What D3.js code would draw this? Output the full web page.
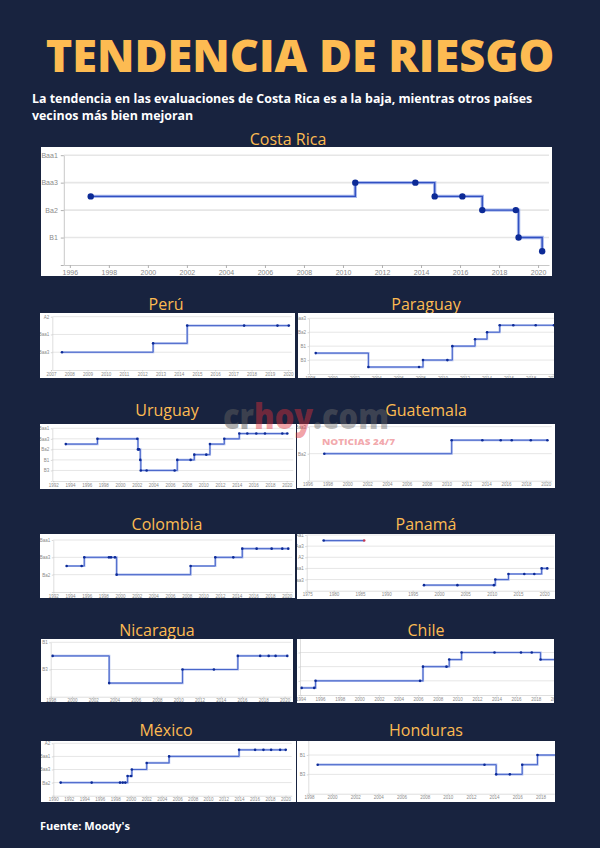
<!DOCTYPE html>
<html>
<head>
<meta charset="utf-8">
<script src="https://cdn.jsdelivr.net/npm/d3@7"></script>
<style>
  body { margin: 0; background: #18233f; }
  svg { display: block; }
</style>
</head>
<body>
<svg id="chart" width="600" height="848"></svg>
<script>
/* eslint-disable no-undef */

// Moody's rating ladder, best to worst
const moodysScale = ['Aaa', 'Aa1', 'Aa2', 'Aa3', 'A1', 'A2', 'A3', 'Baa1', 'Baa2', 'Baa3',
  'Ba1', 'Ba2', 'Ba3', 'B1', 'B2', 'B3', 'Caa1', 'Caa2', 'Caa3'];

// rating actions per country (decimal year + rating)
const costaRicaDates = [1997.07, 2010.63, 2013.71, 2014.7, 2016.12, 2017.14, 2018.86, 2019.0, 2020.21];
const costaRicaRatings = ['Ba1', 'Baa3', 'Baa3', 'Ba1', 'Ba1', 'Ba2', 'Ba2', 'B1', 'B2'];

const peruDates = [2007.6, 2012.6, 2014.47, 2017.59, 2019.42, 2020.04];
const peruRatings = ['Baa3', 'Baa2', 'A3', 'A3', 'A3', 'A3'];

const paraguayDates = [1998.51, 2003.29, 2007.88, 2008.24, 2010.45, 2010.9, 2012.96, 2014.05, 2015.2, 2016.43, 2018.46, 2020.12];
const paraguayRatings = ['B2', 'Caa1', 'Caa1', 'B3', 'B3', 'B1', 'Ba3', 'Ba2', 'Ba1', 'Ba1', 'Ba1', 'Ba1'];

const uruguayDates = [1993.5, 1997.3, 2002.08, 2002.16, 2002.28, 2002.44, 2002.5, 2003.2, 2006.56, 2006.88,
  2008.48, 2008.92, 2010.36, 2010.8, 2012.52, 2014.32, 2015.28, 2016.36, 2017.4, 2019.48, 2020.08];
const uruguayRatings = ['Ba1', 'Baa3', 'Baa3', 'Ba2', 'Ba2', 'B1', 'B3', 'B3', 'B3', 'B1',
  'B1', 'Ba3', 'Ba3', 'Ba1', 'Baa3', 'Baa2', 'Baa2', 'Baa2', 'Baa2', 'Baa2', 'Baa2'];

const guatemalaDates = [1997.68, 2010.52, 2013.61, 2015.46, 2016.57, 2018.49, 2020.17];
const guatemalaRatings = ['Ba2', 'Ba1', 'Ba1', 'Ba1', 'Ba1', 'Ba1', 'Ba1'];

const colombiaDates = [1993.6, 1995.4, 1995.72, 1998.68, 1998.92, 1999.4, 1999.6, 2008.48, 2011.44,
  2013.6, 2014.68, 2016.4, 2018.2, 2019.48, 2020.2];
const colombiaRatings = ['Ba1', 'Ba1', 'Baa3', 'Baa3', 'Baa3', 'Baa3', 'Ba2', 'Ba1', 'Baa3',
  'Baa3', 'Baa2', 'Baa2', 'Baa2', 'Baa2', 'Baa2'];

const panamaOldDates = [1978.1, 1985.8];
const panamaOldRatings = ['Aa2', 'Aa2'];
const panamaDates = [1997.15, 2003.5, 2010.44, 2010.7, 2013.2, 2016.2, 2018.1, 2019.5, 2020.57];
const panamaRatings = ['Ba1', 'Ba1', 'Ba1', 'Baa3', 'Baa2', 'Baa2', 'Baa2', 'Baa1', 'Baa1'];

const nicaraguaDates = [1998.18, 2003.5, 2010.4, 2013.35, 2015.6, 2017.7, 2018.5, 2019.15, 2020.25];
const nicaraguaRatings = ['B2', 'Caa1', 'B3', 'B3', 'B2', 'B2', 'B2', 'B2', 'B2'];

const chileDates = [1994.12, 1995.4, 1995.54, 2006.2, 2006.5, 2008.9, 2009.18, 2010.44, 2013.8,
  2016.5, 2017.6, 2018.5, 2020.2];
const chileRatings = ['Baa2', 'Baa2', 'Baa1', 'Baa1', 'A2', 'A2', 'A1', 'Aa3', 'Aa3',
  'Aa3', 'Aa3', 'A1', 'A1'];

const mexicoDates = [1990.95, 1994.96, 1998.62, 1998.97, 1999.3, 1999.6, 2000.05, 2000.15, 2002.07,
  2004.96, 2014.0, 2016.07, 2017.15, 2018.14, 2019.3, 2020.03];
const mexicoRatings = ['Ba2', 'Ba2', 'Ba2', 'Ba2', 'Ba2', 'Ba1', 'Ba1', 'Baa3', 'Baa2',
  'Baa1', 'A3', 'A3', 'A3', 'A3', 'A3', 'A3'];

const hondurasDates = [1998.76, 2013.17, 2014.18, 2015.36, 2016.43, 2017.75, 2020.1];
const hondurasRatings = ['B2', 'B2', 'B3', 'B3', 'B2', 'B1', 'B1'];

const zip = (dates, ratings) => dates.map((d, i) => ({ date: d, rating: ratings[i] }));

// layout of every panel: white box, plot area, rating range shown, year range and ticks
const panels = [
  { name: 'Costa Rica', big: true, series: [zip(costaRicaDates, costaRicaRatings)],
    box: [41, 147, 511, 129], title: [288, 145], left: 63.8, right: 549, yTop: 155.2, yAxis: 265,
    top: 'Baa1', bottom: 'B3', years: [1995.69, 2020.56], ticks: [1996, 2020, 2] },
  { name: 'Perú', series: [zip(peruDates, peruRatings)],
    box: [40, 313, 255, 65], title: [166, 310], left: 52.3, right: 291.7, yTop: 316.7, yAxis: 370,
    top: 'A2', bottom: 'Ba2', years: [2007.07, 2020.2], ticks: [2007, 2020, 1] },
  { name: 'Paraguay', series: [zip(paraguayDates, paraguayRatings)],
    box: [298, 313, 256, 65], title: [426, 310], left: 309, right: 554, yTop: 318.3, yAxis: 374,
    top: 'Baa3', bottom: 'Caa2', years: [1997.9, 2020.12], ticks: [1998, 2020, 2] },
  { name: 'Uruguay', series: [zip(uruguayDates, uruguayRatings)],
    box: [40, 424, 256, 65], title: [167, 416], left: 52.3, right: 293.3, yTop: 428.3, yAxis: 481,
    top: 'Baa1', bottom: 'Caa2', years: [1991.88, 2020.8], ticks: [1992, 2020, 2] },
  { name: 'Guatemala', series: [zip(guatemalaDates, guatemalaRatings)],
    box: [297, 424, 258, 64], title: [426, 416], left: 309, right: 551.7, yTop: 426.7, yAxis: 480.7,
    top: 'Baa3', bottom: 'B1', years: [1996.14, 2020.6], ticks: [1996, 2020, 2] },
  { name: 'Colombia', series: [zip(colombiaDates, colombiaRatings)],
    box: [40, 534, 255, 64], title: [167, 530], left: 53.3, right: 292.3, yTop: 540, yAxis: 592,
    top: 'Baa1', bottom: 'B1', years: [1992.0, 2020.68], ticks: [1992, 2020, 2] },
  { name: 'Panamá', series: [zip(panamaOldDates, panamaOldRatings), zip(panamaDates, panamaRatings)], redEnd: true,
    box: [297, 534, 258, 65], title: [426, 530], left: 306.7, right: 554.3, yTop: 535, yAxis: 590.7,
    top: 'Aa1', bottom: 'Ba2', years: [1974.88, 2021.9], ticks: [1975, 2020, 5] },
  { name: 'Nicaragua', series: [zip(nicaraguaDates, nicaraguaRatings)],
    box: [41, 639, 252, 63], title: [157, 636], left: 50.7, right: 291, yTop: 642.3, yAxis: 696.7,
    top: 'B1', bottom: 'Caa2', years: [1998.0, 2020.6], ticks: [1998, 2020, 2] },
  { name: 'Chile', series: [zip(chileDates, chileRatings)],
    box: [297, 639, 257, 64], title: [426, 636], left: 300, right: 554.3, yTop: 638.3, yAxis: 695,
    top: 'Aa1', bottom: 'Baa3', years: [1993.95, 2019.9], ticks: [1994, 2020, 2] },
  { name: 'México', series: [zip(mexicoDates, mexicoRatings)],
    box: [41, 741, 255, 61], title: [166, 736], left: 53.3, right: 291.7, yTop: 743.3, yAxis: 795.7,
    top: 'A2', bottom: 'B1', years: [1990.0, 2020.8], ticks: [1990, 2020, 2] },
  { name: 'Honduras', series: [zip(hondurasDates, hondurasRatings)],
    box: [297, 741, 258, 61], title: [426, 736], left: 308.3, right: 554.3, yTop: 735.7, yAxis: 793.7,
    top: 'Ba2', bottom: 'Caa2', years: [1997.95, 2019.2], ticks: [1998, 2020, 2] },
];

const svg = d3.select('svg#chart');
const ORANGE = '#fdbb52';
const FONT = "'Open Sans', 'Noto Sans', sans-serif";
const TICK_FONT = "'Liberation Sans', Arial, sans-serif";

// header
svg.append('text')
  .attr('x', 300)
  .attr('y', 72)
  .attr('text-anchor', 'middle')
  .attr('font-family', FONT)
  .attr('font-weight', 800)
  .attr('font-size', 45)
  .attr('fill', ORANGE)
  .text('TENDENCIA DE RIESGO');

const sub = svg.append('text')
  .attr('font-family', FONT)
  .attr('font-weight', 700)
  .attr('font-size', 12.4)
  .attr('fill', '#ffffff');
sub.append('tspan').attr('x', 32).attr('y', 103)
  .text('La tendencia en las evaluaciones de Costa Rica es a la baja, mientras otros países');
sub.append('tspan').attr('x', 32).attr('y', 120)
  .text('vecinos más bien mejoran');

const defs = svg.append('defs');

panels.forEach((p, idx) => {
  const [bx, by, bw, bh] = p.box;
  const tickFs = p.big ? 7 : 4.5;

  svg.append('text')
    .attr('x', p.title[0])
    .attr('y', p.title[1])
    .attr('text-anchor', 'middle')
    .attr('font-family', FONT)
    .attr('font-size', 16)
    .attr('fill', ORANGE)
    .text(p.name);

  defs.append('clipPath').attr('id', `clip${idx}`)
    .append('rect').attr('x', bx).attr('y', by).attr('width', bw).attr('height', bh);

  const g = svg.append('g').attr('clip-path', `url(#clip${idx})`);

  g.append('rect')
    .attr('x', bx).attr('y', by)
    .attr('width', bw).attr('height', bh)
    .attr('fill', '#ffffff');

  const levels = moodysScale.slice(moodysScale.indexOf(p.top), moodysScale.indexOf(p.bottom) + 1);
  const y = d3.scalePoint().domain(levels).range([p.yTop, p.yAxis]);
  const x = d3.scaleLinear().domain(p.years).range([p.left, p.right]);
  const labeled = levels.filter((l, i) => i % 2 === 0 && i < levels.length - 1);

  // gridlines on labelled ratings
  g.selectAll('line.grid')
    .data(labeled)
    .enter()
    .append('line')
    .attr('x1', p.left)
    .attr('x2', p.right)
    .attr('y1', (d) => y(d))
    .attr('y2', (d) => y(d))
    .attr('stroke', '#e6e6e6')
    .attr('stroke-width', p.big ? 1.6 : 1);

  const xAxis = g.append('g')
    .attr('transform', `translate(0,${p.yAxis})`)
    .call(d3.axisBottom(x)
      .tickValues(d3.range(p.ticks[0], p.ticks[1] + 0.1, p.ticks[2]))
      .tickFormat(d3.format('d'))
      .tickSize(p.big ? 3 : 1.5)
      .tickSizeOuter(0)
      .tickPadding(p.big ? 2 : 1));

  const yAxis = g.append('g')
    .attr('transform', `translate(${p.left},0)`)
    .call(d3.axisLeft(y)
      .tickValues(labeled.concat([p.bottom]))
      .tickFormat((d) => (d === p.bottom ? '' : d))
      .tickSize(p.big ? 3 : 1.5)
      .tickSizeOuter(0)
      .tickPadding(p.big ? 3 : 1.5));

  [xAxis, yAxis].forEach((ax) => {
    ax.select('.domain').attr('stroke', '#c8c8c8').attr('stroke-width', p.big ? 1 : 0.6);
    ax.selectAll('.tick line').attr('stroke', '#b0b0b0').attr('stroke-width', p.big ? 1 : 0.5);
    ax.selectAll('.tick text')
      .attr('fill', '#8a8a8a')
      .attr('font-family', TICK_FONT)
      .attr('font-size', tickFs);
  });

  const line = d3.line()
    .x((d) => x(d.date))
    .y((d) => y(d.rating))
    .curve(d3.curveStepAfter);

  p.series.forEach((s, si) => {
    g.append('path')
      .attr('d', line(s))
      .attr('fill', 'none')
      .attr('stroke', '#a9b9ec')
      .attr('stroke-width', p.big ? 3.4 : 2.2);
    g.append('path')
      .attr('d', line(s))
      .attr('fill', 'none')
      .attr('stroke', '#3150c2')
      .attr('stroke-width', p.big ? 1.4 : 0.8);

    g.selectAll(null)
      .data(s)
      .enter()
      .append('circle')
      .attr('cx', (d) => x(d.date))
      .attr('cy', (d) => y(d.rating))
      .attr('r', p.big ? 3.2 : 1.3)
      .attr('fill', (d, i) => (p.redEnd && si === 0 && i === s.length - 1 ? '#c43a55' : '#0c2a96'));
  });
});

// crhoy.com watermark laid over the panels
const mark = svg.append('text')
  .attr('x', 223)
  .attr('y', 429)
  .attr('font-family', FONT)
  .attr('font-weight', 800)
  .attr('font-size', 35)
  .attr('textLength', 166)
  .attr('lengthAdjust', 'spacingAndGlyphs');
mark.append('tspan').attr('fill', '#5e5e5e').attr('fill-opacity', 0.5).text('cr');
mark.append('tspan').attr('fill', '#e0303a').attr('fill-opacity', 0.45).text('hoy');
mark.append('tspan').attr('fill', '#6b6b6b').attr('fill-opacity', 0.45).text('.com');

svg.append('text')
  .attr('x', 322)
  .attr('y', 445)
  .attr('font-family', FONT)
  .attr('font-weight', 800)
  .attr('font-size', 9.5)
  .attr('textLength', 73)
  .attr('lengthAdjust', 'spacingAndGlyphs')
  .attr('fill', '#e0303a')
  .attr('fill-opacity', 0.42)
  .text('NOTICIAS 24/7');

// footer
svg.append('text')
  .attr('x', 40)
  .attr('y', 830)
  .attr('font-family', FONT)
  .attr('font-weight', 700)
  .attr('font-size', 11)
  .attr('fill', '#ffffff')
  .text("Fuente: Moody's");
</script>
</body>
</html>
